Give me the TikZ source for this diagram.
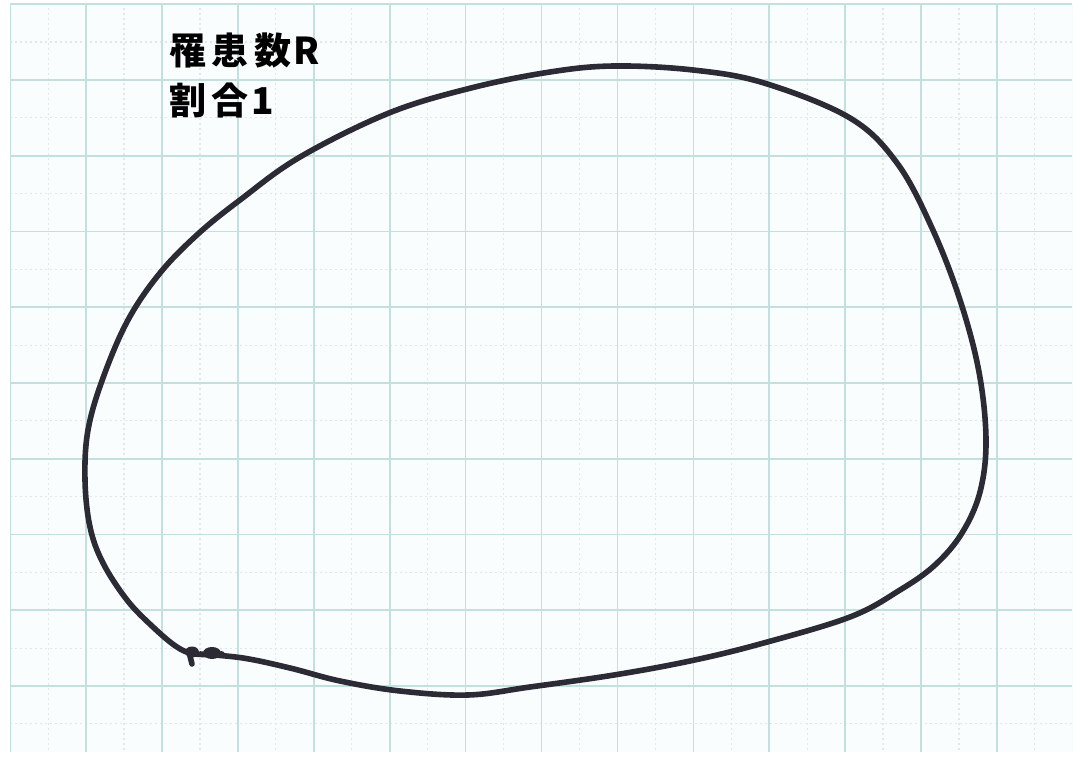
\documentclass[tikz,border=0pt]{standalone}
\usepackage{fontspec}
\newfontfamily\cjk{Noto Sans CJK JP}
\begin{document}
\begin{tikzpicture}[x=1pt,y=-1pt,
  major/.style={draw=gridc,line width=1.6pt},
  minor/.style={draw=minorc,line width=1.2pt,dash pattern=on 2pt off 3pt},
  pen/.style={draw=penc,line width=5.6pt,line cap=round,line join=round},
  label/.style={anchor=north west,inner sep=0pt,font=\cjk\bfseries\fontsize{37}{50}\selectfont,text=black,align=left}]
\definecolor{gridc}{RGB}{196,224,222}
\definecolor{minorc}{RGB}{224,233,233}
\definecolor{penc}{RGB}{44,42,52}
\definecolor{paperc}{RGB}{250,253,253}
\useasboundingbox (0,0) rectangle (1079,762);
\fill[white] (0,0) rectangle (1079,762);
\fill[paperc] (10,3) rectangle (1072,752);
\begin{scope}
\clip (10,3) rectangle (1072,752);
\foreach \i in {0,...,14} {
  \draw[minor] ({48.1+75.9*\i},3) -- ({48.1+75.9*\i},752);
}
\foreach \j in {0,...,10} {
  \draw[minor] (10,{42.1+75.75*\j}) -- (1072,{42.1+75.75*\j});
}
\foreach \i in {0,...,14} {
  \draw[major] ({10.2+75.9*\i},3) -- ({10.2+75.9*\i},752);
}
\foreach \j in {0,...,10} {
  \draw[major] (10,{4.25+75.75*\j}) -- (1072,{4.25+75.75*\j});
}
\end{scope}
\coordinate (knotA) at (189,652);
\coordinate (knotB) at (192,664);
\draw[pen] plot[smooth,tension=0.6] coordinates {
(200,654) (243,658) (290,668) (340,681) (400,691) (468,695)
(530,687) (614,675) (690,661) (760,644) (850,617)
(900,590) (935,565) (962,533) (980,492) (986,440) (979,372)
(960,300) (932,228) (897,163) (850,118)
(764,83) (693,70) (614,66) (550,72) (471,88) (389,113)
(300,157) (240,200) (198,234) (160,273) (128,320)
(103,378) (88,430) (85,480) (90,527) (103,563) (127,600) (153,627)
(177,647) (195,654) (222,654)};
\draw[pen] (knotA) -- (knotB);
\fill[penc] (212,653) ellipse (9pt and 6pt);
\fill[penc] (192,652) ellipse (7pt and 5.5pt);
\node[label] (t1) at (169,33) {罹\kern5pt 患\kern6pt 数\kern2pt R};
\node[label] (t2) at (169,83) {割\kern5pt 合\kern3pt 1};
\end{tikzpicture}
\end{document}
